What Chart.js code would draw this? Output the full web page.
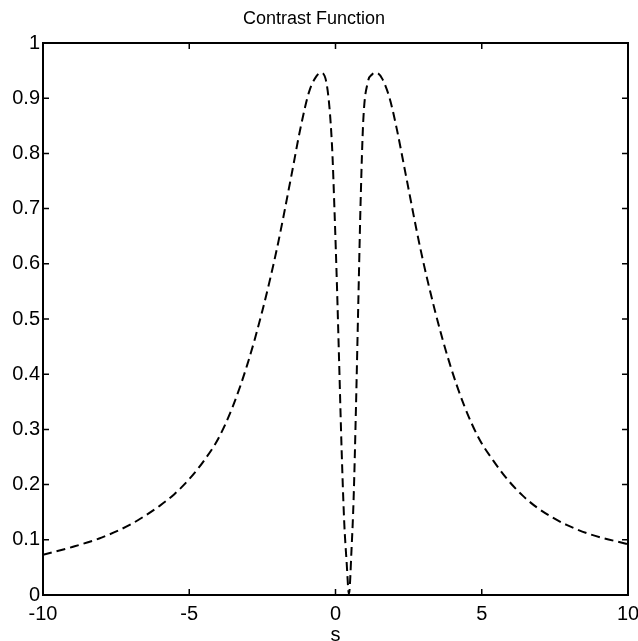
<!DOCTYPE html>
<html>
<head>
<meta charset="utf-8">
<script src="https://cdn.jsdelivr.net/npm/chart.js@4/dist/chart.umd.min.js"></script>
<style>
  html, body { margin: 0; padding: 0; background: #fff; }
  #c { display: block; }
</style>
</head>
<body>
<canvas id="c" width="638" height="641"></canvas>
<script>
const chartTitle = "Contrast Function";
const xAxisLabel = "s";
const sValues = [-10, -9, -8, -7, -6.5, -6, -5.5, -5, -4.5, -4, -3.5, -3, -2.5, -2, -1.5, -1.2, -0.9, -0.65, -0.5, -0.3, -0.12, -0.03, 0.05, 0.12, 0.21, 0.30, 0.38, 0.46, 0.55, 0.62, 0.70, 0.78, 0.86, 0.95, 1.10, 1.25, 1.4, 1.6, 1.85, 2.1, 2.4, 2.9, 3.4, 3.9, 4.4, 4.9, 5.4, 5.9, 6.4, 6.9, 7.4, 7.9, 8.7, 10];
const contrastValues = [0.073, 0.087, 0.104, 0.128, 0.144, 0.162, 0.183, 0.210, 0.243, 0.284, 0.343, 0.420, 0.515, 0.628, 0.762, 0.845, 0.912, 0.940, 0.946, 0.925, 0.815, 0.690, 0.560, 0.430, 0.262, 0.130, 0.060, 0.002, 0.085, 0.175, 0.340, 0.530, 0.715, 0.860, 0.928, 0.943, 0.946, 0.935, 0.900, 0.843, 0.762, 0.628, 0.515, 0.420, 0.343, 0.284, 0.243, 0.208, 0.180, 0.158, 0.141, 0.127, 0.110, 0.092];
const xMin = -10, xMax = 10, xStep = 5;
const yMin = 0, yMax = 1, yStep = 0.1;

const FONT = "'Liberation Sans', Arial, Helvetica, sans-serif";

const points = sValues.map((s, i) => ({ x: s, y: contrastValues[i] }));

const frameTicks = {
  id: 'frameTicks',
  afterDraw(chart) {
    const ctx = chart.ctx;
    const a = chart.chartArea;
    const xs = chart.scales.x, ys = chart.scales.y;
    const L = 6;
    ctx.save();
    ctx.strokeStyle = '#000';
    ctx.lineWidth = 2;
    ctx.strokeRect(a.left, a.top, a.right - a.left, a.bottom - a.top);
    ctx.lineWidth = 1.5;
    ctx.beginPath();
    xs.ticks.forEach(t => {
      const px = xs.getPixelForValue(t.value);
      ctx.moveTo(px, a.bottom); ctx.lineTo(px, a.bottom - L);
      ctx.moveTo(px, a.top); ctx.lineTo(px, a.top + L);
    });
    ys.ticks.forEach(t => {
      const py = ys.getPixelForValue(t.value);
      ctx.moveTo(a.left, py); ctx.lineTo(a.left + L, py);
      ctx.moveTo(a.right, py); ctx.lineTo(a.right - L, py);
    });
    ctx.stroke();
    ctx.restore();
  }
};

new Chart(document.getElementById('c'), {
  type: 'scatter',
  data: {
    datasets: [{
      data: points,
      showLine: true,
      borderColor: '#000',
      borderWidth: 2,
      borderDash: [9, 5],
      pointRadius: 0,
      fill: false,
      cubicInterpolationMode: 'monotone'
    }]
  },
  options: {
    responsive: false,
    animation: false,
    devicePixelRatio: 1,
    layout: { padding: { left: 0, right: 10, top: 0, bottom: 0 } },
    plugins: {
      legend: { display: false },
      tooltip: { enabled: false },
      title: {
        display: true,
        text: chartTitle,
        color: '#000',
        font: { family: FONT, size: 18, weight: 'normal' },
        padding: { top: 8, bottom: 13.4 }
      }
    },
    scales: {
      x: {
        type: 'linear',
        min: xMin, max: xMax,
        afterFit(s) { s.height = 46; s.paddingRight = 10; s.paddingLeft = 0; },
        grid: { display: false, drawTicks: false },
        border: { display: false },
        ticks: { stepSize: xStep, color: '#000', font: { family: FONT, size: 20 }, padding: 7, maxRotation: 0 },
        title: { display: true, text: xAxisLabel, color: '#000', font: { family: FONT, size: 20 }, padding: { top: 0, bottom: -6 } }
      },
      y: {
        type: 'linear',
        min: yMin, max: yMax,
        afterFit(s) { s.width = 43; },
        grid: { display: false, drawTicks: false },
        border: { display: false },
        ticks: {
          stepSize: yStep, color: '#000', font: { family: FONT, size: 20 }, padding: 3,
          callback: v => String(Number(v.toFixed(2)))
        }
      }
    }
  },
  plugins: [frameTicks]
});
</script>
</body>
</html>
